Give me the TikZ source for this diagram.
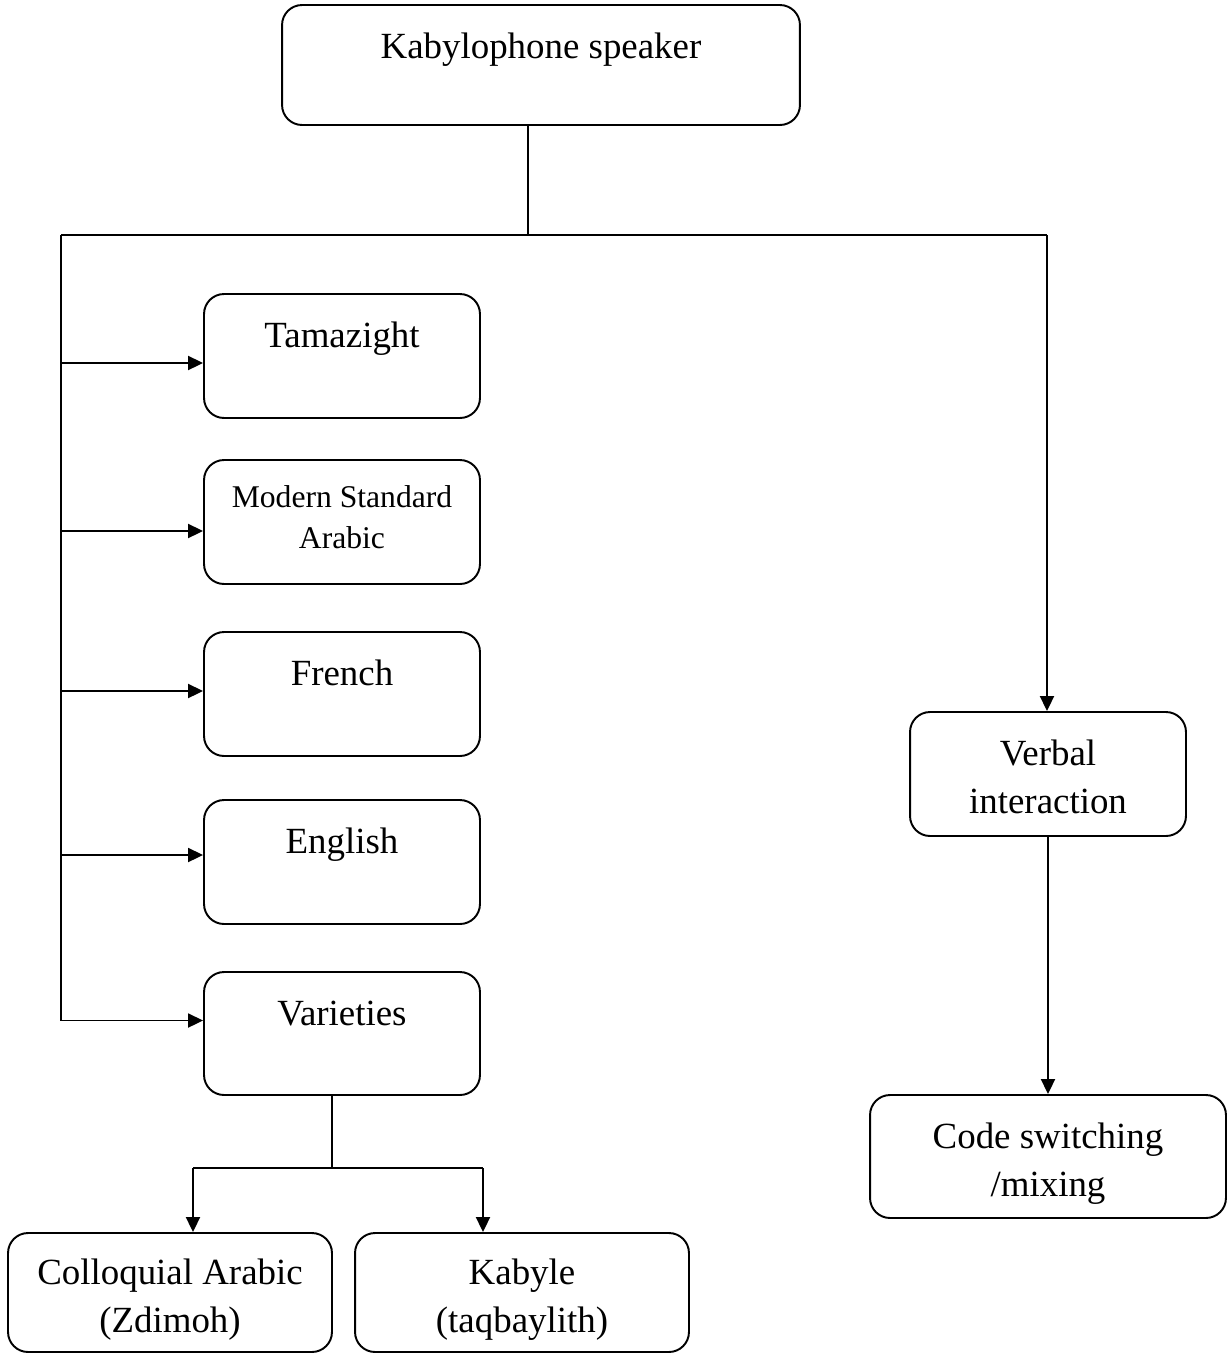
\documentclass[tikz,border=0pt]{standalone}
\usepackage{fontspec}
\setmainfont{Liberation Serif}
\usetikzlibrary{arrows.meta,positioning}

% fixed line heights so the text sits where the reference has it
\newcommand\topline{\rule{0pt}{23.7pt}}
\newcommand\botline{\rule[-6pt]{0pt}{6pt}}

\begin{document}
\begin{tikzpicture}[
  x=0.02cm, y=-0.02cm,
  font=\fontsize{21}{27.3}\selectfont, >=Triangle,
  box/.style={draw,rounded corners=0.4cm,line width=1.1pt,inner sep=0pt,
    minimum width=5.52cm,minimum height=2.48cm,align=center},
  small/.style={font=\fontsize{18}{23.3}\selectfont},
  link/.style={line width=1.1pt},
  arr/.style={-{Triangle[length=0.3cm,width=0.28cm]},line width=1.1pt}
]
\useasboundingbox (0,0) rectangle (1228,1353);

\node[box,minimum width=10.36cm,minimum height=2.40cm] (speaker) at (541,65) {\rule{0pt}{26pt}Kabylophone speaker\\\botline};

\node[box] (tamazight) at (342,356) {\topline Tamazight\\\botline};
\node[box,small] (msa) at (342,522) {Modern Standard\\Arabic\botline};
\node[box] (french) at (342,694) {\topline French\\\botline};
\node[box] (english) at (342,862) {\topline English\\\botline};
\node[box,minimum height=2.46cm] (varieties) at (342,1033.5) {\topline Varieties\\\botline};

\node[box,minimum width=6.48cm,minimum height=2.38cm] (colloquial) at (170,1292.5) {\topline Colloquial Arabic\\(Zdimoh)\botline};
\node[box,minimum width=6.68cm,minimum height=2.38cm] (kabyle) at (522,1292.5) {\topline Kabyle\\(taqbaylith)\botline};

\node[box] (verbal) at (1048,774) {\topline Verbal\\interaction\botline};
\node[box,minimum width=7.12cm,minimum height=2.46cm] (code) at (1048,1156.5) {\topline Code switching\\/mixing\botline};

\coordinate (split) at (528,235);
\coordinate (lefttop) at (61,235);
\coordinate (righttop) at (1047,235);
\coordinate (vsplit) at (332,1168);
\coordinate (cdrop) at (193,1168);
\coordinate (kdrop) at (483,1168);

\draw[link] (speaker.south -| split) -- (split);
\draw[link] (lefttop) -- (righttop);
\draw[arr] (righttop) -- (righttop |- verbal.north);
\draw[arr] (verbal.south) -- (verbal.south |- code.north);

\draw[arr] (lefttop) |- ([yshift=0.26cm]varieties.west);
\draw[arr] (lefttop |- tamazight.west) ++(0,7) -- ([yshift=-0.14cm]tamazight.west);
\draw[arr] (lefttop |- msa.west) ++(0,9) -- ([yshift=-0.18cm]msa.west);
\draw[arr] (lefttop |- french.west) ++(0,-3) -- ([yshift=0.06cm]french.west);
\draw[arr] (lefttop |- english.west) ++(0,-7) -- ([yshift=0.14cm]english.west);

\draw[link] (varieties.south -| vsplit) -- (vsplit);
\draw[link] (cdrop) -- (kdrop);
\draw[arr] (cdrop) -- (cdrop |- colloquial.north);
\draw[arr] (kdrop) -- (kdrop |- kabyle.north);
\end{tikzpicture}
\end{document}
